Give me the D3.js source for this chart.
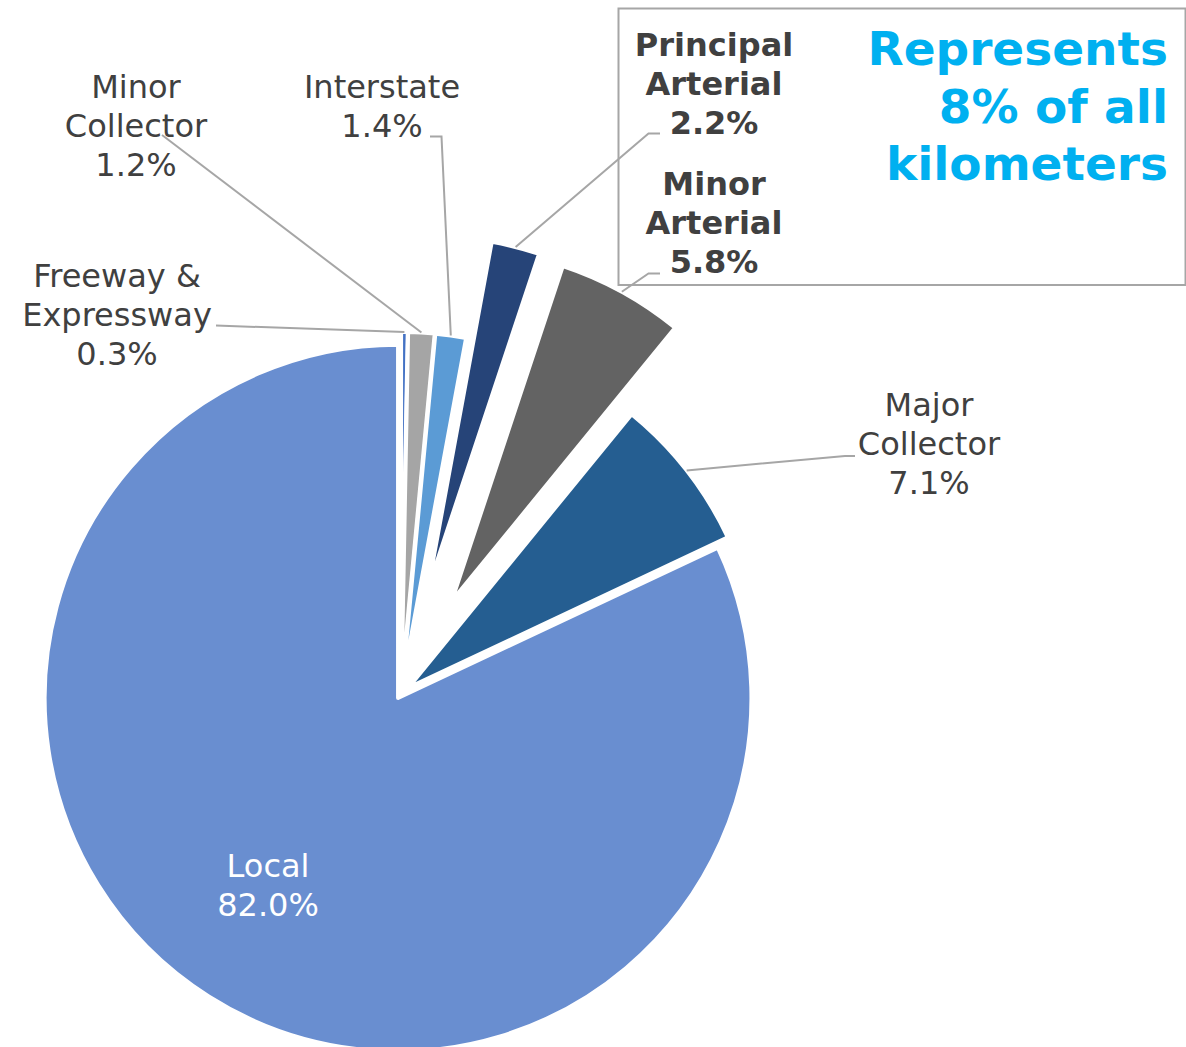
<!DOCTYPE html>
<html>
<head>
<meta charset="utf-8">
<script src="https://cdn.jsdelivr.net/npm/d3@7"></script>
<style>
  body { margin: 0; background: #fff; }
  svg { display: block; }
  text { font-family: "DejaVu Sans", Verdana, sans-serif; }
</style>
</head>
<body>
<script>
// road classes, clockwise from 12 o'clock
var categories = ["Freeway & Expressway", "Minor Collector", "Interstate", "Principal Arterial", "Minor Arterial", "Major Collector", "Local"];
var shares = [0.3, 1.2, 1.4, 2.2, 5.8, 7.1, 82.0];
var labelLines = [["Freeway &", "Expressway"], ["Minor", "Collector"], ["Interstate"], ["Principal", "Arterial"], ["Minor", "Arterial"], ["Major", "Collector"], ["Local"]];
var calloutLines = ["Represents", "8% of all", "kilometers"];

// styling
var colors = ["#4472C4", "#A5A5A5", "#5B9BD5", "#264478", "#636363", "#255E91", "#698ED0"];
var explode = [8, 8, 8, 107.5, 105, 9, 5.5];
var boldLabel = [false, false, false, true, true, false, false];
var labelPos = [[117, 287], [136, 98], [382, 98], [714, 56], [714, 195], [929, 416], [268, 877]];
var leaderStart = [
  [[216, 325.5]],
  [[162, 135]],
  [[430, 136.5], [441.5, 136.5]],
  [[660, 133.5], [648.5, 133.5]],
  [[660, 273.5], [648.5, 273.5]],
  [[855, 456], [845, 456]],
  null
];

var svgWidth = 1186;
var svgHeight = 1047;
var cx = 401, cy = 693.4, radius = 353.4;
var lineH = 39;

var svg = d3.select("body")
  .append("svg")
  .attr("width", svgWidth)
  .attr("height", svgHeight);

var pie = d3.pie().sort(null).value(d => d);
var arcs = pie(shares);
var arc = d3.arc().innerRadius(0).outerRadius(radius);

// unit vector along the middle of a slice (d3 angles: 0 at top, clockwise)
function midDir(a) {
  var m = (a.startAngle + a.endAngle) / 2;
  return [Math.sin(m), -Math.cos(m)];
}

// callout box
svg.append("rect")
  .attr("x", 618.5)
  .attr("y", 8.5)
  .attr("width", 567)
  .attr("height", 276.5)
  .attr("fill", "none")
  .attr("stroke", "#A6A6A6")
  .attr("stroke-width", 2);

var chartGroup = svg.append("g")
  .attr("transform", `translate(${cx}, ${cy})`);

chartGroup.selectAll("path.slice")
  .data(arcs)
  .enter()
  .append("path")
  .attr("class", "slice")
  .attr("transform", (d, i) => {
    var u = midDir(d);
    return `translate(${u[0] * explode[i]}, ${u[1] * explode[i]})`;
  })
  .attr("d", arc)
  .attr("fill", (d, i) => colors[i])
  .attr("stroke", "#fff")
  .attr("stroke-width", 4)
  .attr("stroke-linejoin", "round");

// leader lines, ending on the outer arc of each slice
var line = d3.line();
arcs.forEach(function (d, i) {
  if (!leaderStart[i]) return;
  var u = midDir(d);
  var end = [cx + u[0] * (explode[i] + radius), cy + u[1] * (explode[i] + radius)];
  svg.append("path")
    .attr("d", line(leaderStart[i].concat([end])))
    .attr("fill", "none")
    .attr("stroke", "#A6A6A6")
    .attr("stroke-width", 2);
});

// data labels
arcs.forEach(function (d, i) {
  var lines = labelLines[i].concat([d3.format(".1f")(shares[i]) + "%"]);
  var t = svg.append("text")
    .attr("text-anchor", "middle")
    .attr("font-size", "32px")
    .attr("font-weight", boldLabel[i] ? "bold" : "normal")
    .attr("fill", i == 6 ? "#ffffff" : "#404040");
  lines.forEach(function (s, k) {
    t.append("tspan")
      .attr("x", labelPos[i][0])
      .attr("y", labelPos[i][1] + k * lineH)
      .text(s);
  });
});

// callout text
var callout = svg.append("text")
  .attr("text-anchor", "end")
  .attr("font-size", "47px")
  .attr("font-weight", "bold")
  .attr("fill", "#00B0F0");
calloutLines.forEach(function (s, k) {
  callout.append("tspan")
    .attr("x", 1168)
    .attr("y", 65 + k * 57.5)
    .text(s);
});
</script>
</body>
</html>
